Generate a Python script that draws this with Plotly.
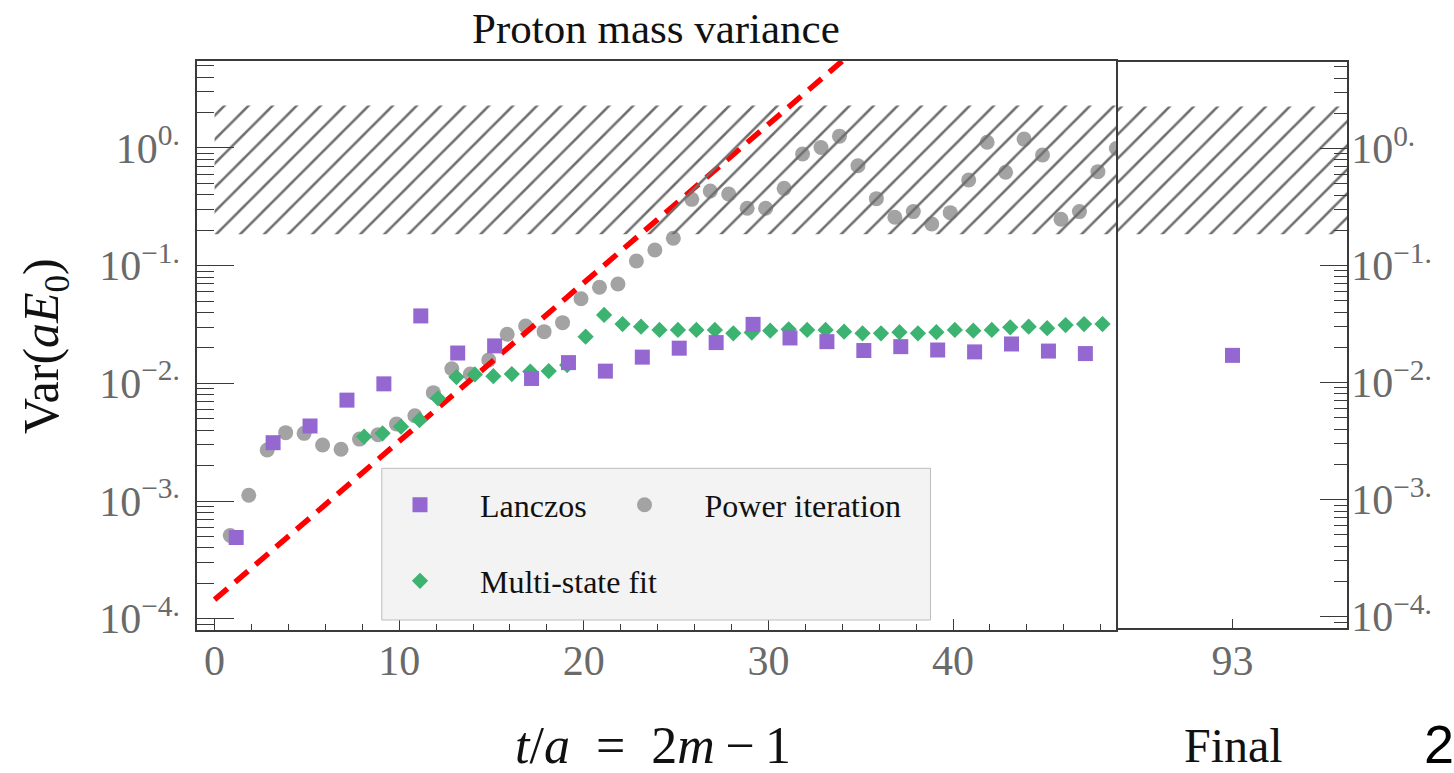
import plotly.graph_objects as go

# ---------------- data ----------------
lanczos_t = [1, 3, 5, 7, 9, 11, 13, 15, 17, 19, 21, 23, 25, 27, 29, 31, 33, 35, 37, 39, 41, 43, 45, 47]
lanczos_var = [4.9e-4, 3.13e-3, 4.34e-3, 7.2e-3, 9.9e-3, 0.0374, 0.0181, 0.0208, 0.0110, 0.0150,
               0.0127, 0.0167, 0.0199, 0.0222, 0.0317, 0.0243, 0.0226, 0.0190, 0.0205, 0.0192,
               0.0185, 0.0216, 0.0188, 0.0179]

power_t = [1, 2, 3, 4, 5, 6, 7, 8, 9, 10, 11, 12, 13, 14, 15, 16, 17, 18, 19, 20, 21, 22, 23, 24, 25,
           26, 27, 28, 29, 30, 31, 32, 33, 34, 35, 36, 37, 38, 39, 40, 41, 42, 43, 44, 45, 46, 47, 48, 49]
power_var = [5.1e-4, 1.12e-3, 2.71e-3, 3.81e-3, 3.76e-3, 2.99e-3, 2.75e-3, 3.36e-3, 3.66e-3, 4.51e-3,
             5.31e-3, 8.33e-3, 0.0133, 0.0120, 0.0158, 0.0261, 0.0307, 0.0275, 0.0328, 0.0524,
             0.0655, 0.0699, 0.1095, 0.136, 0.171, 0.366, 0.431, 0.406, 0.307, 0.307,
             0.454, 0.889, 1.01, 1.26, 0.707, 0.371, 0.258, 0.288, 0.226, 0.282,
             0.535, 1.12, 0.622, 1.19, 0.872, 0.248, 0.288, 0.629, 0.99]

msf_t = [8, 9, 10, 11, 12, 13, 14, 15, 16, 17, 18, 19, 20, 21, 22, 23, 24, 25, 26, 27, 28,
         29, 30, 31, 32, 33, 34, 35, 36, 37, 38, 39, 40, 41, 42, 43, 44, 45, 46, 47, 48]
msf_var = [3.52e-3, 3.76e-3, 4.28e-3, 4.88e-3, 7.46e-3, 0.0113, 0.0119, 0.0115, 0.0120, 0.0126,
           0.0127, 0.0143, 0.0249, 0.0381, 0.0319, 0.0303, 0.0284, 0.0284, 0.0284, 0.0284,
           0.0266, 0.0270, 0.0280, 0.0288, 0.0284, 0.0284, 0.0275, 0.0266, 0.0266, 0.0272,
           0.0266, 0.0272, 0.0284, 0.0280, 0.0284, 0.0299, 0.0303, 0.0294, 0.0313, 0.0319, 0.0319]

final_t = [93]
final_var = [0.0171]

fit_t = [0, 36]
fit_var = [1.45e-4, 10.2]

band_lo = 0.185
band_hi = 2.29
band_left_t = [0, 49]
band_right_t = [87, 99]

y_tickvals = [1e-4, 1e-3, 1e-2, 1e-1, 1]
y_ticktext = ["10<sup>−4.</sup>", "10<sup>−3.</sup>", "10<sup>−2.</sup>", "10<sup>−1.</sup>", "10<sup>0.</sup>"]
x_tickvals = [0, 10, 20, 30, 40]
final_tickvals = [93]
final_ticktext = ["93"]

# ---------------- style ----------------
SERIF = "Liberation Serif"
TICKC = "#6a6a6a"
AXC = "#3a3a3a"
PURPLE = "#9467D1"
GRAY = "#a3a3a3"
GREEN = "#3CB371"
OFF_L, OFF_P, OFF_M = 0.17, -0.15, 0.10

fig = go.Figure()

fig.add_trace(go.Scatter(
    x=[t + OFF_P for t in power_t], y=power_var, mode="markers", name="Power iteration",
    marker=dict(symbol="circle", size=15, color=GRAY), legend="legend3"))

fig.add_trace(go.Scatter(
    x=fit_t, y=fit_var, mode="lines", showlegend=False,
    line=dict(color="#ff0000", width=5.5, dash="17px,10px")))

fig.add_trace(go.Scatter(
    x=[t + OFF_M for t in msf_t], y=msf_var, mode="markers", name="Multi-state fit",
    marker=dict(symbol="diamond", size=12.5, color=GREEN), legend="legend2"))

fig.add_trace(go.Scatter(
    x=[t + OFF_L for t in lanczos_t], y=lanczos_var, mode="markers", name="Lanczos",
    marker=dict(symbol="square", size=15, color=PURPLE), legend="legend"))

fig.add_trace(go.Scatter(
    x=final_t, y=final_var, mode="markers", showlegend=False,
    marker=dict(symbol="square", size=15, color=PURPLE), xaxis="x2", yaxis="y2"))

# hatched band (both panels), drawn over the data
hatch = dict(shape="/", fgcolor="#6f6f6f", fgopacity=1, bgcolor="rgba(0,0,0,0)", size=17, solidity=0.15)
for xs, xa, ya in [(band_left_t, "x", "y"), (band_right_t, "x2", "y2")]:
    fig.add_trace(go.Scatter(
        x=[xs[0], xs[1], xs[1], xs[0], xs[0]],
        y=[band_lo, band_lo, band_hi, band_hi, band_lo],
        mode="lines", fill="toself", fillpattern=hatch, fillcolor="rgba(0,0,0,0)",
        line=dict(width=0), showlegend=False, hoverinfo="skip", xaxis=xa, yaxis=ya))

# ---------------- layout ----------------
L, R, T, B = 197, 107, 61, 143
W, H = 1454, 773
PW, PH = W - L - R, H - T - B


def px(xp):
    return (xp - L) / PW


def py(yp):
    return (H - B - yp) / PH


axis_common = dict(showline=True, linecolor=AXC, linewidth=1.5, mirror=True, showgrid=False,
                   zeroline=False, automargin=False, tickcolor=AXC, tickwidth=1.3,
                   tickfont=dict(family=SERIF, size=42, color=TICKC))

leg_common = dict(orientation="h", xanchor="left", yanchor="middle", bgcolor="rgba(0,0,0,0)",
                  borderwidth=0, itemwidth=110, font=dict(family=SERIF, size=32, color="#111"))

fig.update_layout(
    width=W, height=H, margin=dict(l=L, r=R, t=T, b=B),
    paper_bgcolor="white", plot_bgcolor="white",
    xaxis=dict(domain=[0, px(1116)], range=[-0.953, 48.83], anchor="y",
               tickmode="array", tickvals=x_tickvals, ticks="inside", ticklen=11,
               minor=dict(ticks="inside", ticklen=6, dtick=2, tick0=0, tickcolor=AXC, tickwidth=1.2),
               ticklabelstandoff=-7, **axis_common),
    yaxis=dict(domain=[0, 1], type="log", range=[-4.096, 0.739], anchor="x",
               tickmode="array", tickvals=y_tickvals, ticktext=y_ticktext, ticks="inside", ticklen=37,
               minor=dict(ticks="inside", ticklen=17, dtick="D1", tickcolor=AXC, tickwidth=1.2),
               ticklabelstandoff=7, **axis_common),
    xaxis2=dict(domain=[px(1118), 1], range=[87, 99], anchor="y2",
                tickmode="array", tickvals=final_tickvals, ticktext=final_ticktext,
                ticks="inside", ticklen=9, ticklabelstandoff=-5, **axis_common),
    yaxis2=dict(domain=[py(628), py(62)], type="log", range=[-4.096, 0.739], anchor="x2", side="right",
                tickmode="array", tickvals=y_tickvals, ticktext=y_ticktext, ticks="inside", ticklen=27,
                minor=dict(ticks="inside", ticklen=13, dtick="D1", tickcolor=AXC, tickwidth=1.2),
                ticklabelstandoff=-6, **axis_common),
    legend=dict(x=px(360), y=py(505), **leg_common),
    legend3=dict(x=px(584.5), y=py(505), **leg_common),
    legend2=dict(x=px(360), y=py(581), **leg_common),
    showlegend=True,
)

# legend frame
fig.add_shape(type="rect", xref="paper", yref="paper", x0=px(381.8), x1=px(930.5), y0=py(620), y1=py(468.3),
              fillcolor="#f3f3f3", line=dict(color="#bdbdbd", width=1), layer="above")

ann = dict(xref="paper", yref="paper", showarrow=False)
fig.add_annotation(text="Proton mass variance", x=px(656), y=py(29), xanchor="center", yanchor="middle",
                   font=dict(family=SERIF, size=43, color="#111"), **ann)
fig.add_annotation(text="Var(<i>aE</i><sub>0</sub>)", x=px(45), y=py(346), textangle=-90,
                   xanchor="center", yanchor="middle", font=dict(family=SERIF, size=50, color="#111"), **ann)
fig.add_annotation(text="<i>t</i>/<i>a</i>\u2002=\u20022<i>m</i>\u2009−\u20091", x=px(653), y=py(745),
                   xanchor="center", yanchor="middle", font=dict(family=SERIF, size=52, color="#111"), **ann)
fig.add_annotation(text="Final", x=px(1233), y=py(745), xanchor="center", yanchor="middle",
                   font=dict(family=SERIF, size=48, color="#111"), **ann)
fig.add_annotation(text="2", x=px(1422), y=py(744), xanchor="left", yanchor="middle",
                   font=dict(family="Liberation Sans", size=54, color="#000"), **ann)

fig.write_html("out.html")
